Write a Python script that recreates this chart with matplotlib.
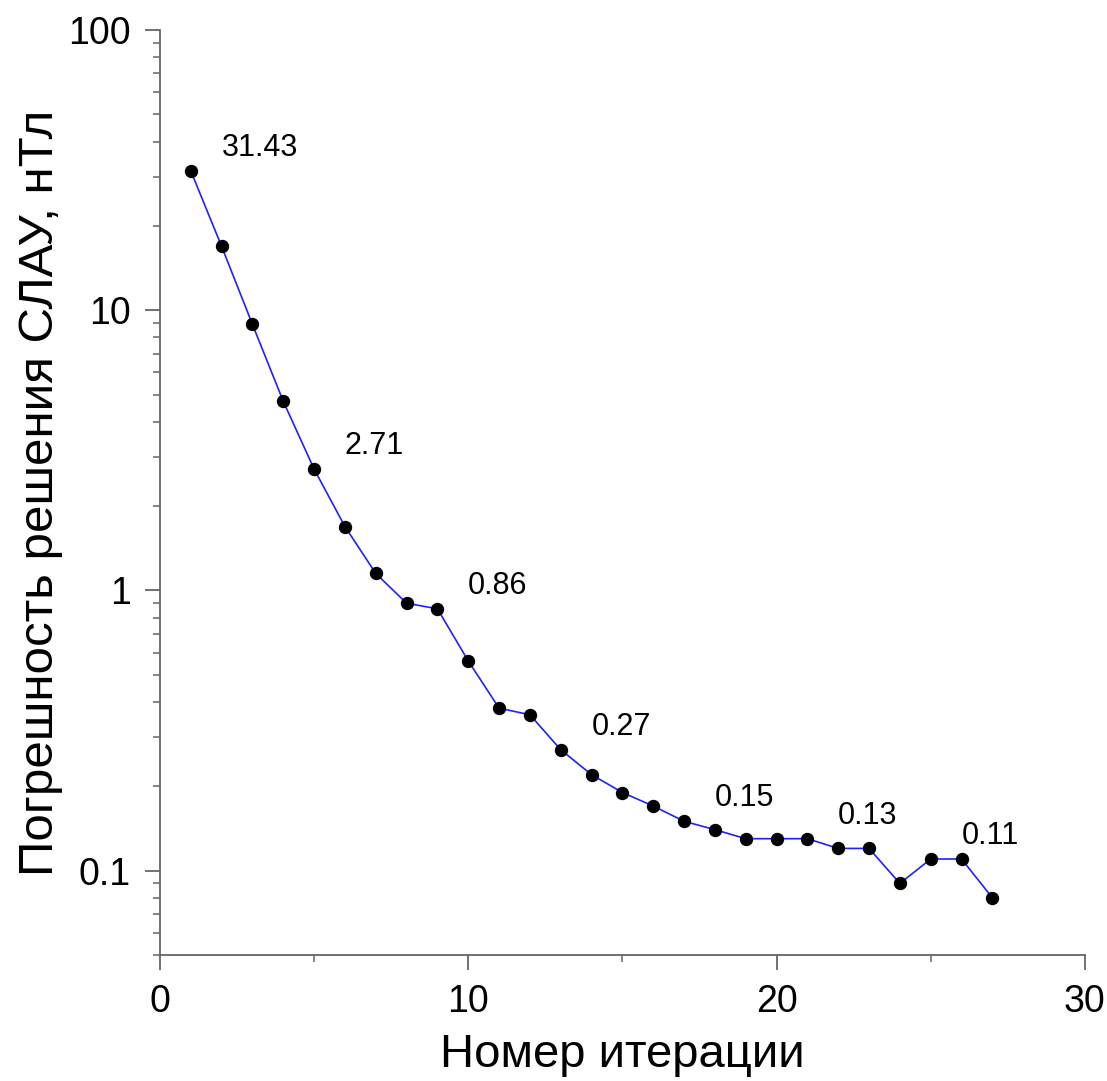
import numpy as np
import matplotlib
matplotlib.use('Agg')
import matplotlib.pyplot as plt
from matplotlib.ticker import LogLocator, FixedLocator, NullFormatter

plt.rcParams['font.family'] = ['Liberation Sans', 'DejaVu Sans']

# данные сходимости
iterations = np.arange(1, 28)
errors = [31.43, 16.9, 8.9, 4.73, 2.71, 1.69, 1.15, 0.90, 0.86, 0.56,
          0.38, 0.36, 0.27, 0.22, 0.19, 0.17, 0.15, 0.14, 0.13, 0.13,
          0.13, 0.12, 0.12, 0.09, 0.11, 0.11, 0.08]
label_iters = [1, 5, 9, 13, 17, 21, 25]
label_texts = ['31.43', '2.71', '0.86', '0.27', '0.15', '0.13', '0.11']

fig = plt.figure(figsize=(11.07, 10.81), dpi=100)
ax = fig.add_axes([0.1445, 0.1166, 0.8355, 0.8556])

ax.plot(iterations, errors, color='#2020ff', lw=1.2, marker='o',
        markersize=8.6, markerfacecolor='black', markeredgecolor='black')

for it, txt in zip(label_iters, label_texts):
    ax.annotate(txt, (it, errors[it - 1]), xytext=(22, 16.5),
                textcoords='offset points', ha='left', va='center', fontsize=22)

ax.set_yscale('log')
ax.set_xlim(0, 30)
ax.set_ylim(0.05, 100)
ax.set_yticks([0.1, 1, 10, 100])
ax.set_yticklabels(['0.1', '1', '10', '100'])
ax.yaxis.set_minor_locator(LogLocator(base=10, subs=np.arange(2, 10)))
ax.yaxis.set_minor_formatter(NullFormatter())
ax.set_xticks([0, 10, 20, 30])
ax.xaxis.set_minor_locator(FixedLocator([5, 15, 25]))

for s in ['top', 'right']:
    ax.spines[s].set_visible(False)
for s in ['left', 'bottom']:
    ax.spines[s].set_color('#666666')
    ax.spines[s].set_linewidth(1.3)

ax.tick_params(which='major', direction='out', length=11, width=1.3,
               color='#666666', labelsize=27, pad=10)
ax.tick_params(which='minor', direction='out', length=5, width=1.1,
               color='#666666')

ax.set_xlabel('Номер итерации', fontsize=34, labelpad=9)
ax.set_ylabel('Погрешность решения СЛАУ, нТл', fontsize=35.5, labelpad=4)

fig.savefig('out.png', dpi=100)
